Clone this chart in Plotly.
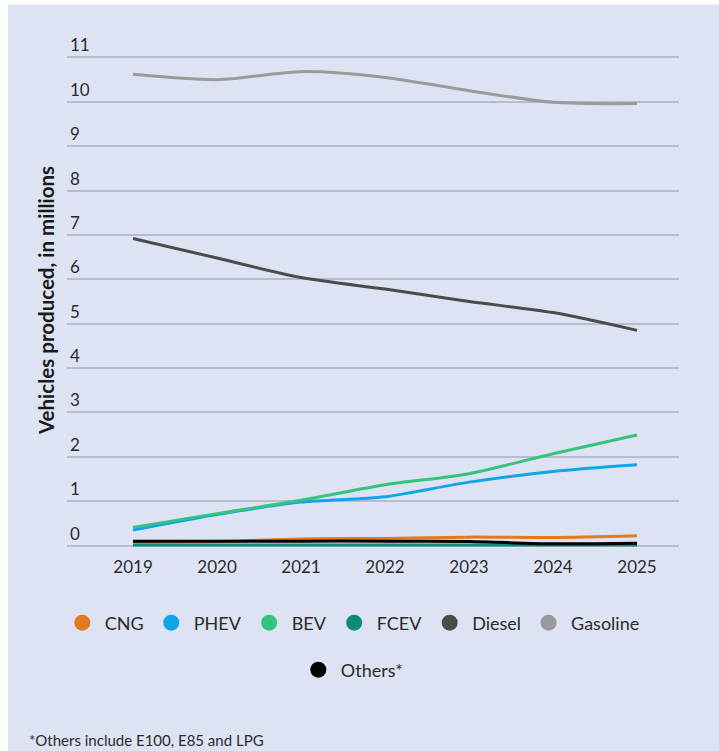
import plotly.graph_objects as go

years = [2019, 2020, 2021, 2022, 2023, 2024, 2025]
cng = [0.08, 0.09, 0.15, 0.16, 0.19, 0.18, 0.22]
phev = [0.35, 0.70, 0.98, 1.10, 1.43, 1.67, 1.82]
bev = [0.41, 0.72, 1.02, 1.37, 1.62, 2.07, 2.49]
fcev = [0.01, 0.01, 0.01, 0.01, 0.01, 0.01, 0.01]
diesel = [6.92, 6.48, 6.04, 5.78, 5.50, 5.25, 4.85]
gasoline = [10.62, 10.50, 10.68, 10.55, 10.25, 9.99, 9.96]
others = [0.10, 0.10, 0.10, 0.10, 0.09, 0.04, 0.05]

series_names = ["CNG", "PHEV", "BEV", "FCEV", "Diesel", "Gasoline", "Others*"]
series_values = [cng, phev, bev, fcev, diesel, gasoline, others]
series_colors = ["#e27a1e", "#0ea5e9", "#35c47d", "#0d8a7a", "#4b4b4b", "#9a9a9a", "#000000"]

y_ticks = list(range(0, 12))
footnote = "*Others include E100, E85 and LPG"
y_title = "Vehicles produced, in millions"

FONT = "Lato"
TXT = "#2b2b2b"
BG = "#dde3f3"

fig = go.Figure()
for name, vals, col in zip(series_names, series_values, series_colors):
    fig.add_trace(go.Scatter(
        x=years, y=vals, mode="lines", name=name,
        line=dict(color=col, width=3, shape="spline", smoothing=0.8),
        showlegend=False, hoverinfo="skip"))

for name, col in zip(series_names, series_colors):
    fig.add_trace(go.Scatter(
        x=[None], y=[None], mode="markers", name=name,
        marker=dict(color=col, size=22, symbol="circle"),
        legend="legend2" if name == "Others*" else "legend",
        showlegend=True))

fig.update_layout(
    width=719, height=751,
    margin=dict(l=67, r=40, t=52.6, b=200.6),
    paper_bgcolor="white",
    plot_bgcolor="rgba(0,0,0,0)",
    font=dict(family=FONT, color=TXT, size=17),
    xaxis=dict(range=[2018.214, 2025.5], tickvals=years, showgrid=False,
               zeroline=False, showline=False, ticks="", ticklabelstandoff=5,
               tickfont=dict(size=17, color=TXT), fixedrange=True),
    yaxis=dict(range=[-0.1, 11.1], tickvals=y_ticks, showgrid=True,
               gridcolor="#b7bdcc", gridwidth=1.5, zeroline=False, showline=False,
               ticks="", ticklabelposition="inside top", ticklabeloverflow="allow",
               tickfont=dict(size=17, color=TXT), fixedrange=True),
    legend=dict(orientation="h", xref="container", yref="container",
                x=0.49, xanchor="center", y=1 - 623 / 751, yanchor="middle",
                itemwidth=35,
                font=dict(size=18, color=TXT), bgcolor="rgba(0,0,0,0)"),
    legend2=dict(orientation="h", xref="container", yref="container",
                 x=0.49, xanchor="center", y=1 - 670 / 751, yanchor="middle",
                 itemwidth=35,
                 font=dict(size=18, color=TXT), bgcolor="rgba(0,0,0,0)"),
    shapes=[dict(type="rect", xref="paper", yref="paper",
                 x0=(8 - 67) / 612, x1=1.2, y0=-0.45, y1=(550.4 - 4) / 497.8,
                 fillcolor=BG, line=dict(width=0), layer="below")],
    annotations=[
        dict(text="<b>" + y_title + "</b>", textangle=-90, xref="paper", yref="paper",
             x=(46 - 67) / 612, y=(550.4 - 301) / 497.8, xanchor="center", yanchor="middle",
             showarrow=False, font=dict(size=20.5, color="#1a1a1a", family=FONT)),
        dict(text=footnote, xref="paper", yref="paper",
             x=(27 - 67) / 612, y=(550.4 - 741) / 497.8, xanchor="left", yanchor="middle",
             showarrow=False, font=dict(size=15, color=TXT, family=FONT)),
    ],
)

fig.write_html("out.html", post_script="document.body.style.margin='0';",
               config={"displayModeBar": False})
